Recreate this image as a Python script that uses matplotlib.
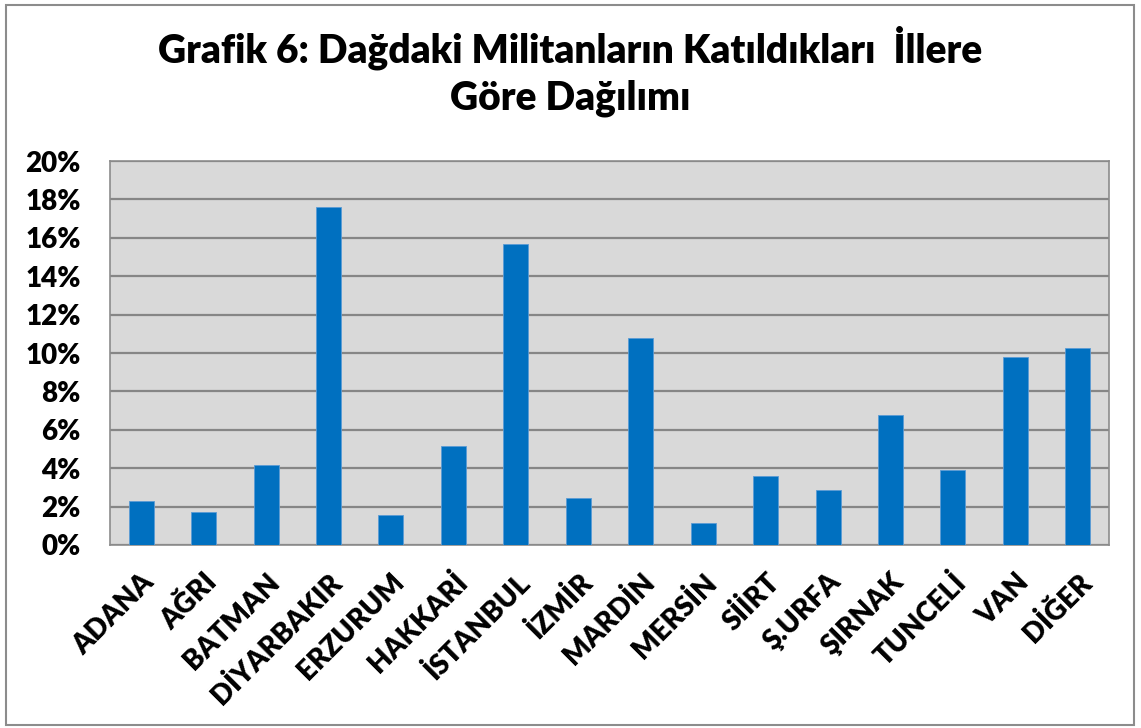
import numpy as np
import matplotlib.pyplot as plt
from matplotlib.patches import Rectangle
from matplotlib.ticker import PercentFormatter

plt.rcParams['font.family'] = ['Lato', 'DejaVu Sans']
plt.rcParams['font.weight'] = 'bold'

cities = ["ADANA", "AĞRI", "BATMAN", "DİYARBAKIR", "ERZURUM", "HAKKARİ",
          "İSTANBUL", "İZMİR", "MARDİN", "MERSİN", "SİİRT", "Ş.URFA",
          "ŞIRNAK", "TUNCELİ", "VAN", "DİĞER"]
shares = [2.27, 1.70, 4.15, 17.58, 1.56, 5.18, 15.70, 2.43, 10.80, 1.13,
          3.60, 2.87, 6.76, 3.88, 9.79, 10.24]
title = "Grafik 6: Dağdaki Militanların Katıldıkları  İllere\nGöre Dağılımı"

fig = plt.figure(figsize=(11.41, 7.28), dpi=100)
# outer chart frame
fig.patches.append(Rectangle((0.005, 0.004), 0.989, 0.989, transform=fig.transFigure,
                             fill=False, edgecolor="#8c8c8c", linewidth=1.5))

ax = fig.add_axes([0.0964, 0.2514, 0.8756, 0.5274])
x = np.arange(len(cities))
ax.bar(x, shares, width=0.4, color="#0070c0", edgecolor="#5b9bd5", linewidth=0.6, zorder=3)

ax.set_facecolor("#d9d9d9")
ax.set_xlim(-0.5, len(cities) - 0.5)
ax.set_ylim(0, 20)
ax.set_yticks(np.arange(0, 21, 2))
ax.yaxis.set_major_formatter(PercentFormatter(decimals=0))
ax.grid(axis="y", color="#868686", linewidth=1.6, zorder=1)
for s in ax.spines.values():
    s.set_color("#8c8c8c")
    s.set_linewidth(1.2)

ax.set_xticks(x)
ax.set_xticklabels(cities, rotation=45, ha="right", rotation_mode="anchor",
                   fontsize=20, fontweight="heavy")
ax.tick_params(axis="x", length=0, pad=17)
ax.tick_params(axis="y", length=0, labelsize=20, pad=21)
for lbl in ax.get_yticklabels():
    lbl.set_fontweight("heavy")

fig.text(0.5, 0.902, title, ha="center", va="center", fontsize=28,
         fontweight="heavy", linespacing=1.3)

fig.savefig("out.png", dpi=100)
